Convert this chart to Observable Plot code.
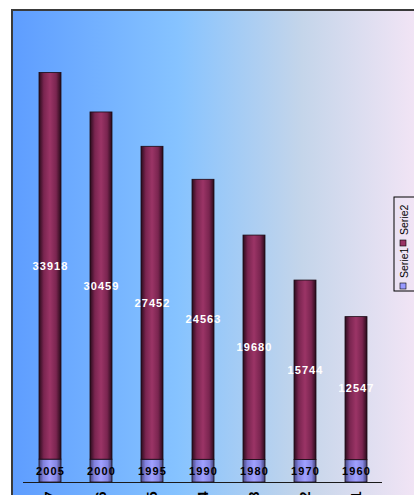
<!DOCTYPE html>
<html>
<head>
<meta charset="utf-8">
<script src="https://cdn.jsdelivr.net/npm/d3@7"></script>
<script src="https://cdn.jsdelivr.net/npm/@observablehq/plot@0.6"></script>
<style>
  html, body { margin: 0; padding: 0; background: #fff; }
  #chart { width: 414px; height: 495px; overflow: hidden; }
  svg { font-family: "Liberation Sans", Arial, sans-serif; }
</style>
</head>
<body>
<div id="chart"></div>
<script>
const categories = ["7", "6", "5", "4", "3", "2", "1"];
const serie1 = [2005, 2000, 1995, 1990, 1980, 1970, 1960];
const serie2 = [33918, 30459, 27452, 24563, 19680, 15744, 12547];
const seriesNames = ["Serie1", "Serie2"];

const data = [];
categories.forEach((c, i) => {
  data.push({cat: c, series: "Serie1", value: serie1[i]});
  data.push({cat: c, series: "Serie2", value: serie2[i]});
});

const W = 414, H = 495;
const chart = Plot.plot({
  width: W,
  height: H,
  marginLeft: 23,
  marginRight: 32,
  marginTop: 26,
  marginBottom: 13,
  style: {background: "transparent", overflow: "visible"},
  x: {domain: categories, paddingInner: 0.57, paddingOuter: 0.285, label: null, tickSize: 0, tickPadding: 9, tickRotate: -90},
  y: {domain: [0, 40000], axis: null},
  color: {domain: seriesNames, range: ["url(#g1)", "url(#g2)"]},
  marks: [
    Plot.barY(data, Plot.stackY({x: "cat", y: "value", z: "series", fill: "series", stroke: "#1a0a14", strokeWidth: 0.8, order: null})),
    Plot.ruleY([0], {stroke: "#1a1a1a", strokeWidth: 1}),
    Plot.text(data, Plot.stackY({
      x: "cat", y: "value", z: "series", text: d => String(d.value), order: null,
      fill: d => d.series === "Serie1" ? "#000" : "#fff",
      fontWeight: "bold", fontSize: 11
    }))
  ]
});

const svg = d3.select(chart);
svg.selectAll("g[aria-label='text'] text").attr("letter-spacing", "1.1");
svg.selectAll("g[aria-label='x-axis tick label'] text").attr("font-weight", "bold").attr("font-size", 14).attr("fill", "#000");

const defs = svg.insert("defs", ":first-child");
function hgrad(id, stops) {
  const g = defs.append("linearGradient").attr("id", id).attr("x1", "0").attr("x2", "1").attr("y1", "0").attr("y2", "0");
  stops.forEach(([o, c]) => g.append("stop").attr("offset", o).attr("stop-color", c));
}
hgrad("bg", [[0, "#5e9dff"], [0.4, "#86c3ff"], [0.7, "#c4d5ea"], [1, "#f6e6f6"]]);
hgrad("g1", [[0, "#45457a"], [0.2, "#8080dd"], [0.5, "#a0a0ff"], [0.8, "#8585e0"], [1, "#3e3e70"]]);
hgrad("g2", [[0, "#2a0b1c"], [0.22, "#7a2550"], [0.5, "#9b3466"], [0.78, "#7a2550"], [1, "#280a1a"]]);

svg.insert("rect", "defs + *")
  .attr("x", 12).attr("y", 10).attr("width", W).attr("height", H)
  .attr("fill", "url(#bg)").attr("stroke", "#3a3a3a").attr("stroke-width", 2);

const lg = svg.append("g").attr("font-size", 10.5).attr("fill", "#000");
lg.append("rect").attr("x", 394).attr("y", 197).attr("width", 30).attr("height", 94)
  .attr("fill", "none").attr("stroke", "#000").attr("stroke-width", 1);
const items = [
  {name: seriesNames[0], sw: 283, tx: 278, fill: "#9999ff"},
  {name: seriesNames[1], sw: 240, tx: 235, fill: "#993366"}
];
items.forEach(it => {
  lg.append("rect").attr("x", 400).attr("y", it.sw).attr("width", 6).attr("height", 6)
    .attr("fill", it.fill).attr("stroke", "#000").attr("stroke-width", 0.6);
  lg.append("text").attr("transform", `translate(407.5,${it.tx}) rotate(-90)`)
    .attr("text-anchor", "start").text(it.name);
});

document.getElementById("chart").appendChild(chart);
</script>
</body>
</html>
